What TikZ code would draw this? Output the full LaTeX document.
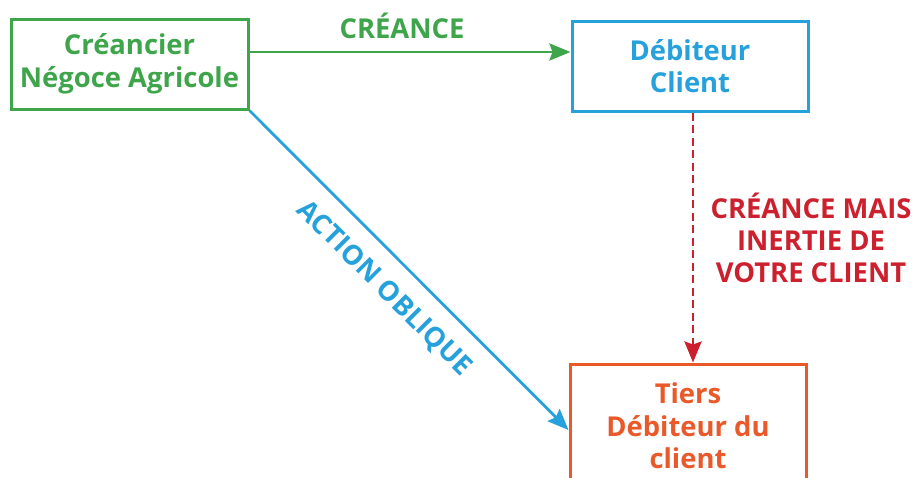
\documentclass[tikz,border=0pt]{standalone}
\usepackage{fontspec}
\setmainfont{Open Sans}
\usetikzlibrary{arrows.meta}
\definecolor{cgreen}{HTML}{3FA54B}
\definecolor{cblue}{HTML}{27A1DB}
\definecolor{cred}{HTML}{CD202E}
\definecolor{corange}{HTML}{E9592A}
\begin{document}
\begin{tikzpicture}[x=1pt,y=-1pt,
  box/.style={draw, line width=3pt, align=center, inner sep=0pt,
    font=\bfseries\fontsize{27.4}{32.5}\selectfont},
  lbl/.style={align=center, inner sep=0pt,
    font=\bfseries\fontsize{27.4}{32}\selectfont},
  link/.style={line width=2.8pt, -{Stealth[length=21pt,width=17pt,inset=3pt]}}]
\clip (0,0) rectangle (912,477);

% boxes
\node[box, cgreen, minimum width=237pt, minimum height=90pt] (creancier)
  at (129.5,64) {Créancier\\Négoce Agricole};
\node[box, cblue, minimum width=236pt, minimum height=90pt] (debiteur)
  at (690,66) {Débiteur\\Client};
\node[box, corange, minimum width=236pt, minimum height=124pt] (tiers)
  at (688,426) {Tiers\\Débiteur du\\client};

% labels
\node[lbl, cgreen, anchor=base] (lcreance) at (402,38) {CRÉANCE};
\node[lbl, cred] (linertie) at (811,238) {CRÉANCE MAIS\\INERTIE DE\\VOTRE CLIENT};
\node[lbl, cblue, rotate=-45] (laction) at (384,289) {ACTION OBLIQUE};

% connectors
\draw[link, cgreen] (creancier.east |- 0,52) -- (debiteur.west |- 0,52);
\draw[link, cblue] (creancier.south east) -- (tiers.west |- 0,430);
\draw[link, cred, dash pattern=on 8pt off 4.5pt] (debiteur.south -| 693,0) -- (tiers.north -| 693,0);
\end{tikzpicture}
\end{document}
